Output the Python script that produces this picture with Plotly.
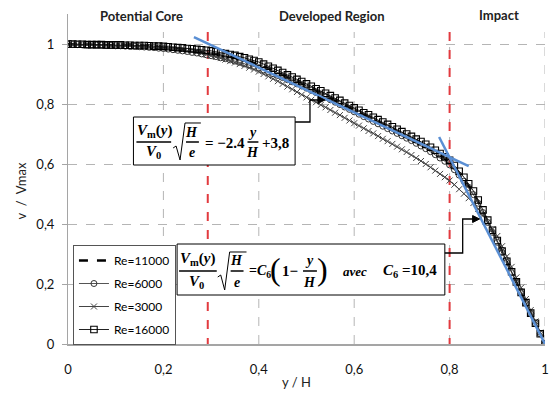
import plotly.graph_objects as go

# ---------------- data ----------------
Y_H = [round(i * 0.01, 2) for i in range(101)]

RE11000 = [0.999,0.999,0.999,0.998,0.998,0.998,0.997,0.997,0.997,0.996,
           0.996,0.996,0.995,0.995,0.994,0.994,0.993,0.992,0.991,0.990,
           0.989,0.988,0.986,0.985,0.983,0.981,0.979,0.977,0.975,0.973,
           0.970,0.967,0.964,0.961,0.958,0.955,0.951,0.947,0.942,0.938,
           0.933,0.926,0.919,0.912,0.905,0.898,0.891,0.883,0.876,0.868,
           0.861,0.853,0.845,0.837,0.829,0.821,0.813,0.805,0.797,0.789,
           0.781,0.773,0.765,0.757,0.749,0.741,0.733,0.725,0.717,0.709,
           0.701,0.693,0.685,0.676,0.668,0.659,0.649,0.639,0.628,0.617,
           0.605,0.588,0.569,0.549,0.527,0.503,0.474,0.442,0.409,0.376,
           0.342,0.308,0.274,0.240,0.206,0.171,0.137,0.103,0.068,0.034,
           0.000]

RE6000 = [0.998,0.998,0.998,0.997,0.997,0.997,0.996,0.996,0.995,0.995,
          0.994,0.994,0.993,0.992,0.992,0.991,0.990,0.989,0.988,0.986,
          0.985,0.983,0.981,0.979,0.977,0.975,0.972,0.970,0.967,0.964,
          0.961,0.958,0.954,0.951,0.947,0.943,0.939,0.934,0.930,0.925,
          0.920,0.914,0.908,0.901,0.895,0.888,0.881,0.874,0.867,0.860,
          0.853,0.845,0.838,0.830,0.822,0.814,0.806,0.798,0.790,0.782,
          0.774,0.766,0.758,0.750,0.742,0.734,0.726,0.718,0.710,0.702,
          0.694,0.686,0.678,0.669,0.660,0.651,0.641,0.631,0.620,0.609,
          0.597,0.581,0.563,0.543,0.522,0.498,0.469,0.438,0.405,0.372,
          0.339,0.305,0.272,0.238,0.204,0.170,0.136,0.102,0.068,0.034,
          0.000]

RE3000 = [0.998,0.998,0.997,0.997,0.997,0.996,0.996,0.996,0.995,0.995,
          0.994,0.994,0.993,0.993,0.992,0.991,0.990,0.990,0.989,0.988,
          0.986,0.985,0.983,0.981,0.979,0.977,0.975,0.972,0.969,0.965,
          0.961,0.957,0.953,0.948,0.943,0.938,0.933,0.927,0.921,0.915,
          0.908,0.900,0.892,0.884,0.876,0.867,0.858,0.849,0.840,0.831,
          0.822,0.814,0.806,0.797,0.789,0.780,0.771,0.763,0.754,0.745,
          0.736,0.728,0.719,0.710,0.702,0.693,0.684,0.676,0.667,0.658,
          0.649,0.640,0.630,0.620,0.610,0.600,0.589,0.578,0.567,0.556,
          0.545,0.531,0.516,0.501,0.486,0.470,0.450,0.428,0.405,0.383,
          0.360,0.326,0.292,0.257,0.222,0.188,0.150,0.113,0.075,0.038,
          0.000]

RE16000 = [1.000,1.000,0.999,0.999,0.998,0.998,0.998,0.998,0.997,0.997,
           0.997,0.997,0.996,0.996,0.995,0.995,0.995,0.994,0.993,0.993,
           0.992,0.991,0.989,0.988,0.987,0.985,0.984,0.982,0.981,0.979,
           0.977,0.974,0.971,0.968,0.965,0.962,0.958,0.954,0.949,0.945,
           0.940,0.933,0.926,0.919,0.912,0.905,0.897,0.890,0.882,0.875,
           0.867,0.859,0.851,0.844,0.836,0.828,0.820,0.812,0.803,0.795,
           0.787,0.779,0.771,0.764,0.756,0.748,0.740,0.732,0.724,0.716,
           0.708,0.700,0.692,0.683,0.675,0.666,0.656,0.646,0.635,0.624,
           0.612,0.595,0.576,0.556,0.534,0.510,0.480,0.447,0.413,0.379,
           0.345,0.310,0.276,0.241,0.207,0.172,0.138,0.103,0.069,0.034,
           0.000]

FIT1_X = [0.264, 0.84]
FIT1_Y = [1.023, 0.593]
FIT2_X = [0.778, 1.0]
FIT2_Y = [0.69, 0.0]

REGION_BOUNDS = [0.293, 0.8]
X_TICKS = [0, 0.2, 0.4, 0.6, 0.8, 1]
Y_TICKS = [0, 0.2, 0.4, 0.6, 0.8, 1]
REGION_LABELS = ["Potential Core", "Developed Region", "Impact"]

# ---------------- layout helpers (pixel -> paper) ----------------
L, R, T, B = 68, 549, 14, 344
def PX(x):
    return (x - L) / (R - L)
def PY(y):
    return (B - y) / (B - T)

SERIF = "Liberation Serif"
SANS = "Lato"

fig = go.Figure()

fig.add_trace(go.Scatter(x=Y_H, y=RE11000, mode="lines", name="Re=11000",
                         line=dict(color="black", width=2.5, dash="dash"),
                         legendgroup="a"))
fig.add_trace(go.Scatter(x=Y_H, y=RE6000, mode="lines+markers", name="Re=6000",
                         line=dict(color="#555555", width=1),
                         marker=dict(symbol="circle-open", size=6, color="#333333",
                                     line=dict(width=1)),
                         legendgroup="b"))
fig.add_trace(go.Scatter(x=Y_H, y=RE3000, mode="lines+markers", name="Re=3000",
                         line=dict(color="#444444", width=1),
                         marker=dict(symbol="x-thin-open", size=6, color="#444444",
                                     line=dict(width=1, color="#444444")),
                         legendgroup="c"))
fig.add_trace(go.Scatter(x=Y_H, y=RE16000, mode="lines+markers", name="Re=16000",
                         line=dict(color="#222222", width=1),
                         marker=dict(symbol="square-open", size=6.5, color="black",
                                     line=dict(width=1.1)),
                         legendgroup="d"))
fig.add_trace(go.Scatter(x=FIT1_X, y=FIT1_Y, mode="lines", showlegend=False,
                         line=dict(color="#5a8fd4", width=2.5)))
fig.add_trace(go.Scatter(x=FIT2_X, y=FIT2_Y, mode="lines", showlegend=False,
                         line=dict(color="#5a8fd4", width=2.5)))

shapes = []
# vertical dashed gridlines
for gx in X_TICKS[1:]:
    shapes.append(dict(type="line", xref="x", yref="y", x0=gx, x1=gx, y0=0, y1=1.04,
                       line=dict(color="#b5b5b5", width=1, dash="dash"), layer="between"))
# red region boundaries
for rx in REGION_BOUNDS:
    shapes.append(dict(type="line", xref="x", yref="y", x0=rx, x1=rx, y0=-0.01, y1=1.04,
                       line=dict(color="#e23a3f", width=2, dash="dash"), layer="between"))

def rect(x0, y0, x1, y1):
    return dict(type="rect", xref="paper", yref="paper", x0=PX(x0), x1=PX(x1),
                y0=PY(y1), y1=PY(y0), fillcolor="white",
                line=dict(color="black", width=1), layer="above")

def path(pts, width=1, fill=None):
    d = "M " + " L ".join(f"{PX(a):.5f},{PY(b):.5f}" for a, b in pts)
    if fill:
        d += " Z"
    s = dict(type="path", xref="paper", yref="paper", path=d,
             line=dict(color="black", width=width), layer="above")
    if fill:
        s["fillcolor"] = fill
    return s

shapes.append(rect(134, 117, 297, 165))
shapes.append(rect(178, 244, 448, 295))
# fraction bars and radicals, box 1
shapes.append(path([(137, 142), (172, 142)], 1.5))
shapes.append(path([(174, 148), (177, 146), (181, 160), (186, 123), (202, 123)], 1))
shapes.append(path([(187, 142), (200, 142)], 1.5))
shapes.append(path([(249, 142), (260, 142)], 1.5))
# box 2
shapes.append(path([(180, 271), (218, 271)], 1.5))
shapes.append(path([(219, 277), (222, 275), (226, 290), (231, 252), (248, 252)], 1))
shapes.append(path([(232, 271), (245, 271)], 1.5))
shapes.append(path([(305, 271), (319, 271)], 1.5))
# connectors
shapes.append(path([(297, 122), (312, 122), (312, 100), (321, 100)], 1.3))
shapes.append(path([(327, 100), (320, 96.5), (320, 103.5)], 1, fill="black"))
shapes.append(path([(448, 253), (466, 253), (466, 219), (477, 219)], 1.3))
shapes.append(path([(483, 219), (476, 215.5), (476, 222.5)], 1, fill="black"))

ann = []
def txt(x, y, s, size=15, xanchor="center", family=SERIF, color="black"):
    ann.append(dict(x=PX(x), y=PY(y), xref="paper", yref="paper", text=s,
                    showarrow=False, xanchor=xanchor, yanchor="middle",
                    font=dict(family=family, size=size, color=color)))

NUM = "<b><i>V</i><sub>m</sub>(<i>y</i>)</b>"
DEN = "<b><i>V</i><sub>0</sub></b>"
# box 1
txt(155, 131, NUM)
txt(154, 152, DEN)
txt(193, 132, "<b><i>H</i></b>", 14)
txt(193, 152, "<b><i>e</i></b>", 14)
txt(204, 143, "<b>= −2.4</b>", 15, "left")
txt(254, 132, "<b><i>y</i></b>", 14)
txt(254, 152, "<b><i>H</i></b>", 14)
txt(262, 143, "<b>+3,8</b>", 15, "left")
# box 2
txt(199, 259, NUM)
txt(198, 282, DEN)
txt(238, 260, "<b><i>H</i></b>", 14)
txt(238, 282, "<b><i>e</i></b>", 14)
txt(248, 271, "<b>=<i>C</i><sub>6</sub></b>", 14, "left")
txt(277, 269, "(", 32)
txt(282, 271, "<b>1−</b>", 15, "left")
txt(312, 260, "<b><i>y</i></b>", 14)
txt(312, 282, "<b><i>H</i></b>", 14)
txt(325, 269, ")", 32)
txt(357, 271, "<b><i>avec</i></b>", 13)
txt(384, 271, "<b><i>C</i><sub>6</sub> =10,4</b>", 15, "left")

# region labels
txt(142, 16, "<b>" + REGION_LABELS[0] + "</b>", 13, family=SANS, color="#222")
txt(334, 16, "<b>" + REGION_LABELS[1] + "</b>", 13, family=SANS, color="#222")
txt(503, 15, "<b>" + REGION_LABELS[2] + "</b>", 13, family=SANS, color="#222")

# axis titles
txt(298, 382, "y / H", 13, family=SANS, color="#222")
ann.append(dict(x=PX(21), y=PY(191), xref="paper", yref="paper",
                text="v\u00a0\u00a0/\u00a0\u00a0Vmax", showarrow=False, textangle=-90,
                xanchor="center", yanchor="middle",
                font=dict(family=SANS, size=13, color="#222")))

fig.update_layout(
    width=554, height=396,
    margin=dict(l=L, r=554 - R, t=T, b=396 - B),
    paper_bgcolor="white", plot_bgcolor="white",
    separators=", ",
    showlegend=True,
    legend=dict(x=PX(73), y=PY(245), xanchor="left", yanchor="top",
                bgcolor="white", bordercolor="#555555", borderwidth=1,
                font=dict(family=SANS, size=12, color="black"),
                traceorder="grouped", tracegroupgap=4),
    shapes=shapes,
    annotations=ann,
)
fig.update_xaxes(range=[0, 1], tickvals=X_TICKS, showgrid=False, zeroline=False,
                 showline=True, linecolor="#a5a5a5", linewidth=2, ticks="",
                 ticklabelstandoff=12,
                 tickfont=dict(family=SANS, size=13, color="#111"))
fig.update_yaxes(range=[0, 1.1], tickvals=Y_TICKS, showgrid=True, gridcolor="#b5b5b5",
                 griddash="dash", gridwidth=1, zeroline=False,
                 showline=True, linecolor="#a5a5a5", linewidth=1,
                 ticks="outside", ticklen=5, tickcolor="#a5a5a5",
                 ticklabelstandoff=5,
                 tickfont=dict(family=SANS, size=13, color="#111"))

fig.write_html("out.html")
